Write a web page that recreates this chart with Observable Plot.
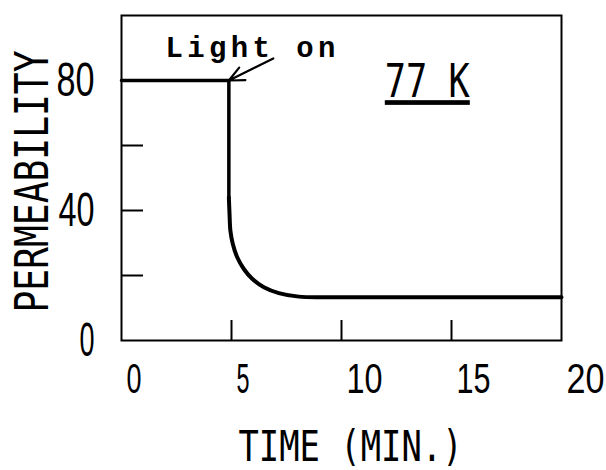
<!DOCTYPE html>
<html>
<head>
<meta charset="utf-8">
<script src="https://cdn.jsdelivr.net/npm/d3@7"></script>
<script src="https://cdn.jsdelivr.net/npm/@observablehq/plot@0.6"></script>
<style>
  html, body { margin: 0; padding: 0; background: #fff; }
</style>
</head>
<body>
<div id="chart"></div>
<script>
// ---- data ----
// step: flat in the dark, then sudden drop when the light is switched on
const stepTime = [0, 4.88, 4.88];
const stepPerm = [80, 80, 44];
// decay after the drop
const decayTime = [4.88, 4.91, 4.95, 5.06, 5.26, 5.56, 5.94, 6.47, 7.15, 8.06, 9.12, 10, 20];
const decayPerm = [44, 39, 33.8, 29.7, 25.6, 22, 19, 16.4, 14.6, 13.5, 13.3, 13.3, 13.3];

const xTickLabels = [0, 5, 10, 15, 20];
const xInnerTicks = [5, 10, 15];
const yTickLabels = [0, 40, 80];
const yInnerTicks = [20, 40, 60, 80];

const xLabel = "TIME (MIN.)";
const yLabel = "PERMEABILITY";
const tempLabel = "77 K";
const lightLabel = "Light on";

// annotation anchors (data units)
const tempAt = {x: 13.9, y: 79.5};
const lightAt = {x: 5.86, y: 90};
const arrowFrom = {x: 6.9, y: 86.8};
const arrowTo = {x: 4.88, y: 80};

const step = stepTime.map((t, i) => ({t, p: stepPerm[i]}));
const decay = decayTime.map((t, i) => ({t, p: decayPerm[i]}));

const plotter = "'DejaVu Sans Mono', 'Liberation Mono', monospace";
const digits = "'Liberation Sans', Arial, sans-serif";

const chart = Plot.plot({
  width: 606,
  height: 470,
  marginLeft: 121,
  marginRight: 45,
  marginTop: 15,
  marginBottom: 130,
  x: {domain: [0, 20]},
  y: {domain: [0, 100]},
  style: {fontFamily: plotter, color: "#000", background: "#fff", overflow: "visible"},
  marks: [
    Plot.frame({stroke: "#000", strokeWidth: 2}),
    // inner tick marks
    Plot.axisX({ticks: xInnerTicks, tickSize: -20, strokeWidth: 2, tickFormat: () => "", label: null}),
    Plot.axisY({ticks: yInnerTicks, tickSize: -22, strokeWidth: 2, tickFormat: () => "", label: null}),
    // tick labels
    Plot.axisX({ticks: xTickLabels, tickSize: 0, tickPadding: 23, textAnchor: "start", dx: 5,
      fontSize: 42, fontFamily: digits, label: null}),
    Plot.axisY({ticks: yTickLabels, tickSize: 0, tickPadding: 27,
      fontSize: 48, fontFamily: digits, label: null}),
    // curve
    Plot.line(step, {x: "t", y: "p", stroke: "#000", strokeWidth: 3.5, curve: "linear"}),
    Plot.line(decay, {x: "t", y: "p", stroke: "#000", strokeWidth: 4, curve: "catmull-rom"}),
    // axis titles
    Plot.text([xLabel], {frameAnchor: "bottom", dx: 9, dy: 107, fontSize: 43, fontFamily: plotter,
      textAnchor: "middle", lineAnchor: "middle"}),
    Plot.text([yLabel], {frameAnchor: "left", dx: -88, dy: 3.5, rotate: -90, fontSize: 46,
      fontFamily: plotter, textAnchor: "middle", lineAnchor: "middle"}),
    // annotations
    Plot.text([tempLabel], {x: tempAt.x, y: tempAt.y, fontSize: 47, fontFamily: plotter,
      textAnchor: "middle", lineAnchor: "middle"}),
    Plot.text([lightLabel], {x: lightAt.x, y: lightAt.y, fontSize: 29,
      fontFamily: "'Liberation Mono', 'DejaVu Sans Mono', monospace", fontWeight: "bold",
      textAnchor: "middle", lineAnchor: "middle"}),
    Plot.arrow([0], {x1: arrowFrom.x, y1: arrowFrom.y, x2: arrowTo.x, y2: arrowTo.y,
      stroke: "#000", strokeWidth: 2.2, headLength: 15, headAngle: 50})
  ]
});

document.getElementById("chart").appendChild(chart);

// condense the plotter-style lettering to the reference widths
const lengths = {
  "0": 15, "5": 13, "10": 36, "15": 34, "20": 38, "40": 36, "80": 38,
  "TIME (MIN.)": 224, "PERMEABILITY": 262, "77 K": 85, "Light on": 170
};
d3.select(chart).selectAll("text").each(function() {
  const s = this.textContent;
  if (!(s in lengths)) return;
  this.setAttribute("textLength", lengths[s]);
  this.setAttribute("lengthAdjust", s === lightLabel ? "spacing" : "spacingAndGlyphs");
  if (s === tempLabel) this.setAttribute("text-decoration", "underline");
});
</script>
</body>
</html>
